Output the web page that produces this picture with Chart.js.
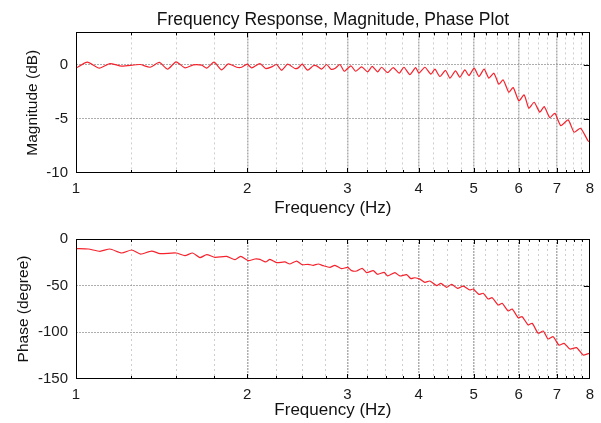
<!DOCTYPE html>
<html lang="en">
  <head>
    <meta charset="UTF-8" />
    <title>Frequency Response, Magnitude, Phase Plot</title>
    <style>
      * {
        margin: 0;
        padding: 0;
      }
      body {
        background: #fff;
        width: 601px;
        height: 423px;
        overflow: hidden;
      }
      canvas {
        display: block;
      }
    </style>
  </head>
  <body>
    <canvas id="magChart" width="601" height="220"></canvas>
    <canvas id="phaseChart" width="601" height="203"></canvas>

    <script src="https://cdn.jsdelivr.net/npm/chart.js"></script>

    <script>
      // data block
      const magFreq = [
        1.0, 1.047, 1.099, 1.147, 1.203, 1.296, 1.349, 1.401, 1.449, 1.499,
        1.554, 1.607, 1.663, 1.697, 1.748, 1.803, 1.852, 1.916, 1.955, 2.0,
        2.036, 2.105, 2.154, 2.207, 2.252, 2.298, 2.355, 2.425, 2.458, 2.498,
        2.553, 2.612, 2.648, 2.702, 2.757, 2.806, 2.851, 2.91, 2.961, 3.042,
        3.1, 3.177, 3.255, 3.316, 3.389, 3.444, 3.529, 3.61, 3.699, 3.77,
        3.862, 3.953, 4.005, 4.104, 4.205, 4.273, 4.361, 4.462, 4.541, 4.646,
        4.728, 4.825, 4.904, 5.01, 5.106, 5.216, 5.316, 5.425, 5.536, 5.633,
        5.764, 5.866, 6.003, 6.133, 6.251, 6.386, 6.535, 6.65, 6.805, 6.944,
        7.115, 7.328, 7.508, 7.705, 7.945, 8.0
      ];
      const magDb = [
        -0.31, 0.25, -0.31, 0.12, -0.12, 0.03, -0.22, 0.22, -0.4, 0.28,
        -0.28, 0.0, -0.03, -0.31, 0.25, -0.46, 0.09, -0.22, -0.22, 0.06,
        -0.28, 0.12, -0.34, -0.19, 0.03, -0.49, 0.06, -0.34, -0.28, 0.06,
        -0.49, -0.09, -0.09, -0.4, 0.03, -0.4, -0.34, 0.03, -0.59, -0.09,
        -0.59, -0.19, -0.65, -0.15, -0.65, -0.22, -0.71, -0.25, -0.77, -0.22,
        -0.9, -0.25, -0.77, -0.22, -0.86, -0.4, -1.08, -0.52, -1.23, -0.56,
        -1.14, -0.46, -0.99, -0.31, -1.08, -0.4, -1.23, -0.77, -1.79, -1.39,
        -2.53, -2.1, -3.33, -2.78, -4.01, -3.46, -4.38, -3.86, -4.88, -4.48,
        -5.62, -5.09, -6.23, -5.86, -7.04, -7.1
      ];
      const phaseFreq = [
        1.0, 1.051, 1.102, 1.147, 1.203, 1.253, 1.299, 1.358, 1.405, 1.499,
        1.554, 1.603, 1.651, 1.697, 1.755, 1.84, 1.903, 1.947, 2.008, 2.063,
        2.105, 2.154, 2.192, 2.252, 2.329, 2.377, 2.442, 2.498, 2.559, 2.612,
        2.665, 2.72, 2.794, 2.851, 2.93, 3.002, 3.051, 3.113, 3.184, 3.242,
        3.33, 3.389, 3.481, 3.529, 3.635, 3.709, 3.811, 3.878, 3.941, 4.022,
        4.104, 4.188, 4.303, 4.378, 4.48, 4.572, 4.684, 4.792, 4.923, 4.99,
        5.106, 5.195, 5.302, 5.389, 5.521, 5.61, 5.748, 5.843, 5.986, 6.084,
        6.233, 6.335, 6.491, 6.623, 6.758, 6.897, 7.058, 7.21, 7.38, 7.581,
        7.786, 7.945, 8.0
      ];
      const phaseDeg = [
        -10.3, -10.7, -13.2, -10.7, -15.0, -11.8, -16.1, -12.9, -15.7, -15.0,
        -17.9, -15.0, -20.0, -16.8, -19.6, -18.6, -22.1, -18.6, -23.2, -21.4,
        -21.8, -24.6, -21.8, -25.3, -24.6, -26.8, -23.6, -27.5, -27.1, -28.2,
        -26.8, -28.6, -30.4, -28.2, -31.8, -30.4, -33.9, -34.3, -31.4, -36.1,
        -33.9, -37.8, -35.7, -39.6, -36.1, -39.6, -38.2, -42.5, -41.5, -43.0,
        -46.4, -45.0, -50.0, -47.5, -51.8, -48.6, -52.9, -50.4, -54.6, -53.6,
        -59.3, -58.2, -64.3, -62.9, -70.7, -68.9, -77.1, -75.0, -84.3, -83.2,
        -92.1, -90.3, -101.0, -98.6, -107.1, -104.7, -113.6, -111.8, -117.9, -116.4,
        -124.3, -122.9, -122.5
      ];

      // tick labels
      const xTicks = [1, 2, 3, 4, 5, 6, 7, 8];
      const xMinorSteps = [0.25, 0.5, 0.75];
      const magTicks = [-10, -5, 0];
      const phaseTicks = [-150, -100, -50, 0];

      const xGrid = xTicks.flatMap((t) =>
        t === xTicks[xTicks.length - 1] ? [t] : [t, ...xMinorSteps.map((s) => t + s)]
      );

      Chart.defaults.font.family = "'Liberation Sans', Arial, sans-serif";
      Chart.defaults.color = "#1a1a1a";

      // frame + inward tick marks plugin block
      const frame = {
        id: "frame",
        afterDatasetsDraw(chart) {
          const {
            ctx,
            chartArea: { left, right, top, bottom },
            scales: { x, y }
          } = chart;
          ctx.save();
          ctx.strokeStyle = "#000";
          ctx.lineWidth = 1;
          ctx.beginPath();
          xGrid.forEach((v) => {
            if (v <= x.min || v >= x.max) return;
            const px = Math.round(x.getPixelForValue(v)) + 0.5;
            const len = Number.isInteger(v) ? 5 : 3;
            ctx.moveTo(px, bottom);
            ctx.lineTo(px, bottom - len);
            ctx.moveTo(px, top);
            ctx.lineTo(px, top + len);
          });
          y.ticks.forEach((t) => {
            if (t.value <= y.min || t.value >= y.max) return;
            const py = Math.round(y.getPixelForValue(t.value)) + 0.5;
            ctx.moveTo(right, py);
            ctx.lineTo(right - 6, py);
          });
          ctx.stroke();
          ctx.strokeRect(
            Math.round(left) + 0.5,
            Math.round(top) + 0.5,
            Math.round(right - left) - 1,
            Math.round(bottom - top) - 1
          );
          ctx.restore();
        }
      };

      function gridColor(ctx, lo, hi, major) {
        if (!ctx.tick) return "rgba(0,0,0,0)";
        const v = ctx.tick.value;
        if (v <= lo || v >= hi) return "rgba(0,0,0,0)";
        return major(v) ? "rgba(140,140,140,0.7)" : "rgba(190,190,190,0.75)";
      }

      function buildChart(id, freq, vals, opt) {
        const points = freq.map((f, i) => ({ x: f, y: vals[i] }));
        return new Chart(document.getElementById(id), {
          type: "line",
          data: {
            datasets: [
              {
                data: points,
                borderColor: "rgb(245, 35, 45)",
                borderWidth: 1.2,
                pointRadius: 0,
                tension: 0.2
              }
            ]
          },
          options: {
            responsive: false,
            animation: false,
            layout: { padding: { top: opt.padTop, right: 11, left: 0, bottom: 0 } },
            plugins: {
              legend: { display: false },
              tooltip: { enabled: false },
              title: opt.title
                ? {
                    display: true,
                    text: opt.title,
                    fullSize: false,
                    color: "#111",
                    font: { size: 17.5, weight: "normal" },
                    padding: { top: 10, bottom: 1.4 }
                  }
                : { display: false }
            },
            scales: {
              x: {
                type: "logarithmic",
                min: 1,
                max: 8,
                afterBuildTicks: (scale) => {
                  scale.ticks = xGrid.map((v) => ({ value: v }));
                },
                afterFit: (scale) => {
                  scale.height = opt.xHeight;
                },
                ticks: {
                  autoSkip: false,
                  maxRotation: 0,
                  padding: 7,
                  font: { size: 15 },
                  callback: (v) => (xTicks.includes(v) ? String(v) : "")
                },
                grid: {
                  drawTicks: false,
                  color: (ctx) => gridColor(ctx, 1, 8, (v) => Number.isInteger(v)),
                  lineWidth: (ctx) =>
                    ctx.tick && Number.isInteger(ctx.tick.value) ? 1.5 : 1
                },
                border: {
                  display: false,
                  dash: (ctx) =>
                    ctx.tick && Number.isInteger(ctx.tick.value) ? [2, 1] : [2, 3]
                },
                title: {
                  display: true,
                  text: "Frequency (Hz)",
                  color: "#111",
                  font: { size: 17 },
                  padding: { top: 0, bottom: opt.xTitlePad }
                }
              },
              y: {
                min: opt.yMin,
                max: opt.yMax,
                afterBuildTicks: (scale) => {
                  scale.ticks = opt.yTicks.map((v) => ({ value: v }));
                },
                afterFit: (scale) => {
                  scale.width = 76;
                },
                ticks: { padding: 8, font: { size: 15 } },
                grid: {
                  drawTicks: false,
                  color: (ctx) => gridColor(ctx, opt.yMin, opt.yMax, () => true),
                  lineWidth: 1
                },
                border: { display: false, dash: [2, 1] },
                title: {
                  display: true,
                  text: opt.yTitle,
                  color: "#111",
                  font: { size: 15.5 },
                  padding: { top: opt.yTitlePad, bottom: 0 }
                }
              }
            }
          },
          plugins: [frame]
        });
      }

      // init render block
      const magChart = buildChart("magChart", magFreq, magDb, {
        title: "Frequency Response, Magnitude, Phase Plot",
        padTop: 0,
        xHeight: 47,
        xTitlePad: 1,
        yMin: -10,
        yMax: 3,
        yTicks: magTicks,
        yTitle: "Magnitude (dB)",
        yTitlePad: 23.4
      });

      const phaseChart = buildChart("phaseChart", phaseFreq, phaseDeg, {
        title: null,
        padTop: 19,
        xHeight: 44,
        xTitlePad: 2.8,
        yMin: -150,
        yMax: 0,
        yTicks: phaseTicks,
        yTitle: "Phase (degree)",
        yTitlePad: 14.4
      });
    </script>
  </body>
</html>
